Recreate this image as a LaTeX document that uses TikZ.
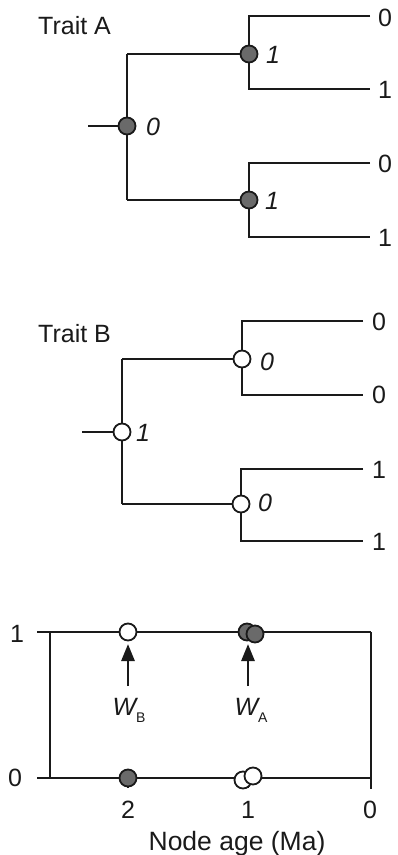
\documentclass[tikz,border=0pt]{standalone}
\usepackage{fontspec}
\setmainfont{Liberation Sans}
\usetikzlibrary{arrows.meta}
\definecolor{ink}{HTML}{1A1A1A}
\definecolor{dotgray}{HTML}{6A6A6A}
\begin{document}
\begin{tikzpicture}[x=1pt,y=-1pt,
  branch/.style={draw=ink, line width=2.6pt},
  gdot/.style={circle, draw=ink, line width=1.8pt, fill=dotgray, minimum size=17pt, inner sep=0pt},
  wdot/.style={circle, draw=ink, line width=1.8pt, fill=white, minimum size=17pt, inner sep=0pt},
  lab/.style={font=\fontsize{25}{29}\selectfont, inner sep=0pt, text=ink},
  ilab/.style={font=\fontsize{25}{29}\selectfont\itshape, inner sep=0pt, text=ink},
  uparrow/.style={draw=ink, line width=2.8pt, -{Triangle[length=17pt,width=13pt]}}]
\useasboundingbox (0,0) rectangle (397,855);

% ---------------- Trait A ----------------
\node[lab, anchor=base west] (tA) at (38,34) {Trait A};
\coordinate (aStub) at (88,126);
\coordinate (aR) at (127,126);
\coordinate (aRt) at (127,54);
\coordinate (aRb) at (127,200);
\coordinate (aU) at (249,54);
\coordinate (aL) at (249,200);
\coordinate (aU1) at (249,16);  \coordinate (aU1e) at (370,16);
\coordinate (aU2) at (249,89);  \coordinate (aU2e) at (370,89);
\coordinate (aL1) at (249,163); \coordinate (aL1e) at (370,163);
\coordinate (aL2) at (249,237); \coordinate (aL2e) at (370,237);
\draw[branch] (aStub) -- (aR);
\draw[branch] (aRt) -- (aRb);
\draw[branch] (aRt) -- (aU);
\draw[branch] (aRb) -- (aL);
\draw[branch] (aU1e) -- (aU1) -- (aU2) -- (aU2e);
\draw[branch] (aL1e) -- (aL1) -- (aL2) -- (aL2e);
\node[gdot] (naR) at (aR) {};
\node[gdot] (naU) at (aU) {};
\node[gdot] (naL) at (aL) {};
\node[ilab] (laR) at (153,127) {0};
\node[ilab] (laU) at (273,55) {1};
\node[ilab] (laL) at (272,201) {1};
\node[lab] (ta1) at (385,18) {0};
\node[lab] (ta2) at (385,90) {1};
\node[lab] (ta3) at (385,164) {0};
\node[lab] (ta4) at (385,238) {1};

% ---------------- Trait B ----------------
\node[lab, anchor=base west] (tB) at (38,342) {Trait B};
\coordinate (bStub) at (82,432);
\coordinate (bR) at (122,432);
\coordinate (bRt) at (122,359);
\coordinate (bRb) at (122,504);
\coordinate (bU) at (242,359);
\coordinate (bL) at (241,504);
\coordinate (bU1) at (242,321); \coordinate (bU1e) at (363,321);
\coordinate (bU2) at (242,395); \coordinate (bU2e) at (363,395);
\coordinate (bL1) at (241,469); \coordinate (bL1e) at (363,469);
\coordinate (bL2) at (241,541); \coordinate (bL2e) at (363,541);
\draw[branch] (bStub) -- (bR);
\draw[branch] (bRt) -- (bRb);
\draw[branch] (bRt) -- (bU);
\draw[branch] (bRb) -- (bL);
\draw[branch] (bU1e) -- (bU1) -- (bU2) -- (bU2e);
\draw[branch] (bL1e) -- (bL1) -- (bL2) -- (bL2e);
\node[wdot] (nbR) at (bR) {};
\node[wdot] (nbU) at (bU) {};
\node[wdot] (nbL) at (bL) {};
\node[ilab] (lbR) at (143,433) {1};
\node[ilab] (lbU) at (267,362) {0};
\node[ilab] (lbL) at (265,503) {0};
\node[lab] (tb1) at (379,322) {0};
\node[lab] (tb2) at (379,395) {0};
\node[lab] (tb3) at (379,470) {1};
\node[lab] (tb4) at (379,542) {1};

% ---------------- Plot ----------------
\coordinate (pTL) at (37,632);  \coordinate (pTR) at (371,632);
\coordinate (pBL) at (37,778);  \coordinate (pBR) at (371,778);
\coordinate (pLt) at (50,632);  \coordinate (pLb) at (50,778);
\coordinate (pRend) at (371,789);
\coordinate (tk2a) at (128,778); \coordinate (tk2b) at (128,788);
\coordinate (tk1a) at (248,778); \coordinate (tk1b) at (248,788);
\draw[branch] (pTL) -- (pTR);
\draw[branch] (pBL) -- (pBR);
\draw[branch] (pLt) -- (pLb);
\draw[branch] (pTR) -- (pRend);
\draw[branch] (tk2a) -- (tk2b);
\draw[branch] (tk1a) -- (tk1b);
\node[lab] (y1) at (17,634) {1};
\node[lab] (y0) at (15,778) {0};
\node[lab] (x2) at (128,810) {2};
\node[lab] (x1) at (248,810) {1};
\node[lab] (x0) at (370,810) {0};
\node[lab, font=\fontsize{26.5}{30}\selectfont, anchor=base] (xlab) at (237,850) {Node age (Ma)};

\node[wdot] (pw1) at (128,632) {};
\node[gdot] (pg1) at (247,632) {};
\node[gdot] (pg2) at (255,634) {};
\node[gdot] (pg3) at (128,778) {};
\node[wdot] (pw2) at (243,780) {};
\node[wdot] (pw3) at (253,776) {};

\coordinate (arB) at (128,686);
\coordinate (arA) at (248,686);
\draw[uparrow] (arB) -- ++(0,-42);
\draw[uparrow] (arA) -- ++(0,-42);
\node[lab, anchor=base] (wB) at (129,715) {\itshape W\raisebox{-7pt}{\fontsize{14}{14}\selectfont\upshape B}};
\node[lab, anchor=base] (wA) at (251,715) {\itshape W\raisebox{-7pt}{\fontsize{14}{14}\selectfont\upshape A}};
\end{tikzpicture}
\end{document}
